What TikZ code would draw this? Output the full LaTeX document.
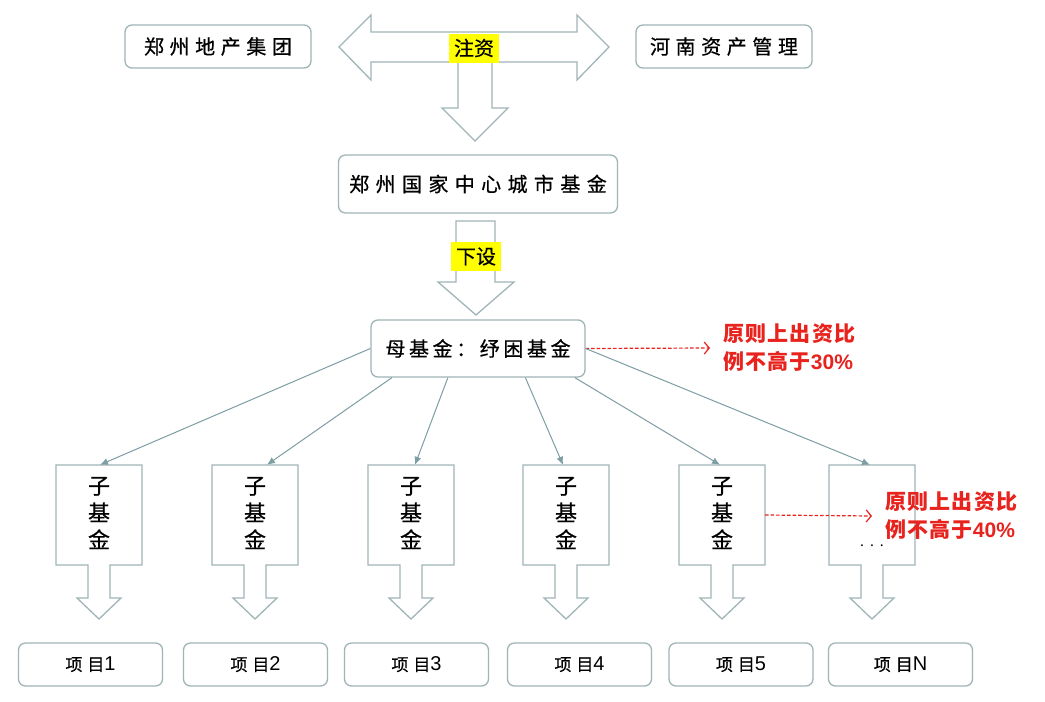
\documentclass[tikz,border=0pt]{standalone}
\usepackage{fontspec}
\setmainfont{Noto Sans CJK SC}
\newfontfamily\latn{Liberation Sans}
\usetikzlibrary{arrows.meta,calc}
\definecolor{bx}{RGB}{160,181,183}
\definecolor{ln}{RGB}{125,158,163}
\definecolor{rd}{RGB}{232,35,30}
\definecolor{hl}{RGB}{255,255,0}
\newcommand\fsz[2]{\fontsize{#1}{#2}\selectfont}
\newcommand\lsp[1]{\addfontfeatures{LetterSpace=#1}}
\newcommand\dk{\addfontfeatures{FakeBold=0.6}}
\newcommand\num[1]{{\latn #1}}
\begin{document}
\begin{tikzpicture}[x=1pt,y=-1pt,
  rbox/.style={draw=bx,line width=1.3pt,rounded corners=7pt,fill=white,inner sep=0pt},
  blockarrow/.style={draw=bx,line width=1.3pt,fill=white,line join=miter},
  hlbox/.style={fill=hl,inner sep=0pt,minimum width=50pt,minimum height=29pt,font=\fsz{20}{24}\dk},
  conn/.style={draw=ln,line width=1pt,-{Latex[length=8pt,width=7pt]}},
  redarr/.style={draw=rd,line width=1.2pt,dash pattern=on 3.5pt off 2pt,-{Straight Barb[length=5pt,width=12pt]}},
  redtxt/.style={text=rd,font=\fsz{21}{28}\bfseries\lsp{6},align=left,anchor=west,inner sep=0pt},
  subtxt/.style={font=\fsz{22}{27}\dk,align=center,inner sep=0pt},
  projbox/.style={rbox,minimum width=144pt,minimum height=43pt,font=\fsz{17}{20}\dk}
]
\useasboundingbox[fill=white] (0,0) rectangle (1045,702);

% top row
\node[rbox,minimum width=186pt,minimum height=43pt,font=\fsz{20}{24}\lsp{28}\dk] (zzdc) at (218,46.5) {郑州地产集团};
\node[rbox,minimum width=176pt,minimum height=43pt,font=\fsz{20}{24}\lsp{28}\dk] (hnzc) at (724,46.5) {河南资产管理};

% double arrow with down branch
\draw[blockarrow] (339,47) -- (371,15) -- (371,32) -- (577,32) -- (577,15) -- (609,47) -- (577,80) -- (577,62)
  -- (492,62) -- (492,108) -- (508,108) -- (475,141) -- (442,108) -- (458,108) -- (458,62)
  -- (371,62) -- (371,80) -- cycle;
\node[hlbox] (zhuzi) at (474,48) {注资};

% main fund
\node[rbox,minimum width=279pt,minimum height=58pt,font=\fsz{20}{24}\lsp{32}\dk] (city) at (478,184) {郑州国家中心城市基金};

% down arrow 2
\draw[blockarrow] (456,221) -- (495,221) -- (495,282) -- (514,282) -- (476,315) -- (438,282) -- (456,282) -- cycle;
\node[hlbox] (xiashe) at (476,256.5) {下设};

% mother fund
\node[rbox,minimum width=214pt,minimum height=57pt,font=\fsz{20}{24}\lsp{18}\dk] (mom) at (478,348.5) {母基金：纾困基金};
\node[redtxt] (r30) at (723,348) {原则上出资比\\例不高于{\latn\bfseries 30\%}};
\draw[redarr] (mom.east) -- ([xshift=-13pt]r30.west);

% sub funds
\foreach \i/\cx in {1/99,2/255,3/411,4/566,5/722,6/872} {
  \draw[blockarrow] (\cx-43,465) -- (\cx+43,465) -- (\cx+43,565) -- (\cx+11,565) -- (\cx+11,598)
    -- (\cx+22,598) -- (\cx,619) -- (\cx-22,598) -- (\cx-11,598) -- (\cx-11,565) -- (\cx-43,565) -- cycle;
  \node[minimum width=86pt,minimum height=100pt,inner sep=0pt] (s\i) at (\cx,515) {};
}
\foreach \i in {1,...,5} {
  \node[subtxt] (t\i) at ([yshift=2pt]s\i.center) {子\\基\\金};
}
\node[font=\fsz{14}{16}] (dots) at (872,546) {.\hspace{6pt}.\hspace{6pt}.};

\node[redtxt] (r40) at (885,516) {原则上出资比\\例不高于{\latn\bfseries 40\%}};
\draw[redarr] (s5.east) -- ([xshift=-13pt]r40.west);

% connectors from mother fund
\draw[conn] (mom.west) -- ([xshift=1pt]s1.north);
\draw[conn] ($(mom.south west)!0.1!(mom.south east)$) -- ([xshift=12pt]s2.north);
\draw[conn] ($(mom.south west)!0.36!(mom.south east)$) -- ([xshift=4pt]s3.north);
\draw[conn] ($(mom.south west)!0.72!(mom.south east)$) -- ([xshift=-3pt]s4.north);
\draw[conn] ($(mom.south west)!0.95!(mom.south east)$) -- ([xshift=-2pt]s5.north);
\draw[conn] (mom.east) -- ([xshift=-2pt]s6.north);

% projects
\node[projbox] (p1) at (90.5,664.5) {项\hspace{5pt}目\num{\fsz{20}{20}1}};
\node[projbox] (p2) at (255.5,664.5) {项\hspace{5pt}目\num{\fsz{20}{20}2}};
\node[projbox] (p3) at (416.5,664.5) {项\hspace{5pt}目\num{\fsz{20}{20}3}};
\node[projbox] (p4) at (579.5,664.5) {项\hspace{5pt}目\num{\fsz{20}{20}4}};
\node[projbox] (p5) at (741,664.5) {项\hspace{5pt}目\num{\fsz{20}{20}5}};
\node[projbox] (p6) at (900.5,664.5) {项\hspace{5pt}目\num{\fsz{20}{20}N}};
\end{tikzpicture}
\end{document}
